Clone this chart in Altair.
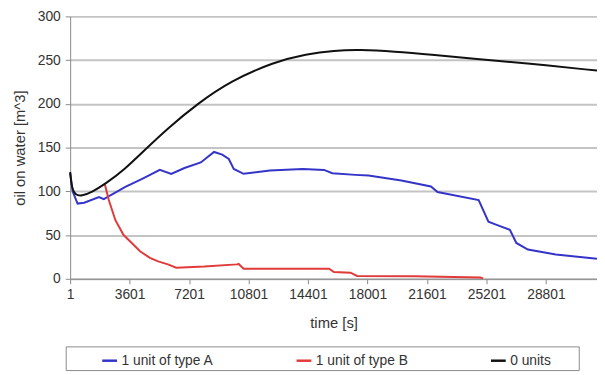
import altair as alt
import pandas as pd

series_names = ["1 unit of type A", "1 unit of type B", "0 units"]
series_colors = ["#3434c8", "#e03a3a", "#111111"]

# 1 unit of type A (blue)
t_a = [1, 150, 450, 850, 1745, 2040, 2440, 3340, 4330, 5430, 6120, 6920, 7910,
       8710, 9205, 9605, 9905, 10500, 12090, 14080, 15370, 15870, 17265, 18060,
       20050, 21840, 22240, 24730, 25320, 25820, 26620, 27010, 27710, 29400, 31893]
v_a = [121, 100, 86, 87, 93.5, 91, 95.5, 105, 114, 124.5, 120, 126.7, 133,
       145, 142, 137, 125.6, 120, 123.7, 125.6, 124.5, 120.7, 118.8, 118,
       112.4, 105.6, 99.2, 90, 65.3, 61.6, 56, 41, 33.4, 27.8, 23]

# 1 unit of type B (red)
t_b = [2100, 2340, 2740, 3235, 3730, 4230, 4830, 5325, 5920, 6420, 8110, 10100,
       10200, 10500, 15670, 15970, 16970, 17370, 20850, 24830, 25000]
v_b = [108, 90, 67, 50, 41, 31.5, 24, 20, 16.5, 12.7, 14, 16.5,
       17, 11.6, 11.6, 7.8, 7, 3.3, 3, 1.4, 0.5]

# 0 units (black)
t_c = [1, 100, 300, 700, 1300, 2100, 3300, 4500, 5900, 7700, 9700, 12350,
       14300, 16000, 17500, 19600, 22000, 24800, 27600, 31893]
v_c = [122, 104, 96, 94.5, 99, 108, 125, 147, 172, 200, 226, 248,
       257, 261, 262, 260, 256, 251, 246.5, 238]

x_ticks = [1, 3601, 7201, 10801, 14401, 18001, 21601, 25201, 28801]
y_ticks = [0, 50, 100, 150, 200, 250, 300]
x_domain = [1, 31893]
y_domain = [0, 300]

rows = []
for name, ts, vs in zip(series_names, [t_a, t_b, t_c], [v_a, v_b, v_c]):
    for t, v in zip(ts, vs):
        rows.append({"series": name, "t": t, "v": v})
df = pd.DataFrame(rows)

color = alt.Color(
    "series:N",
    scale=alt.Scale(domain=series_names, range=series_colors),
    sort=series_names,
    legend=alt.Legend(
        title=None, orient="none", legendX=31, legendY=340,
        direction="horizontal", columns=3, columnPadding=78,
        symbolType="stroke", symbolSize=225, symbolStrokeWidth=2.5,
        labelFontSize=14, labelColor="#333333", labelOffset=3, padding=0,
    ),
)

x = alt.X(
    "t:Q",
    scale=alt.Scale(domain=x_domain, nice=False, zero=False),
    axis=alt.Axis(
        values=x_ticks, format="d", grid=False, title="time [s]", tickSize=5,
        labelPadding=4, labelOverlap=False, labelFlush=False,
        titlePadding=14,
    ),
)
y = alt.Y(
    "v:Q",
    scale=alt.Scale(domain=y_domain, nice=False),
    axis=alt.Axis(
        values=y_ticks, title="oil on water [m^3]", tickSize=5,
        labelPadding=5, titlePadding=10,
    ),
)

box = alt.Chart(pd.DataFrame({"k": [0]})).mark_rect(
    fill="white", stroke="#8a8a8a", strokeWidth=1
).encode(
    x=alt.value(-4), x2=alt.value(516), y=alt.value(335), y2=alt.value(359)
)

lines_ab = alt.Chart(df[df["series"] != "0 units"]).mark_line(
    strokeWidth=2, interpolate="linear"
).encode(x=x, y=y, color=color, detail="series:N")

line_c = alt.Chart(df[df["series"] == "0 units"]).mark_line(
    strokeWidth=2, interpolate="basis"
).encode(x=x, y=y, color=color)

chart = alt.layer(box, lines_ab, line_c).properties(
    width=534, height=266,
    autosize=alt.AutoSizeParams(type="none"),
    padding={"left": 63, "top": 6, "right": 0, "bottom": 95},
).configure(
    font="Liberation Sans",
).configure_view(
    stroke="transparent"
).configure_axis(
    domainColor="#8a8a8a", tickColor="#8a8a8a",
    gridColor="#c4c4c4", gridWidth=2,
    labelFontSize=14, labelColor="#333333",
    titleFontSize=15, titleFontWeight="normal", titleColor="#333333",
)

chart.save("out.html", embed_options={"renderer": "svg", "actions": False})
